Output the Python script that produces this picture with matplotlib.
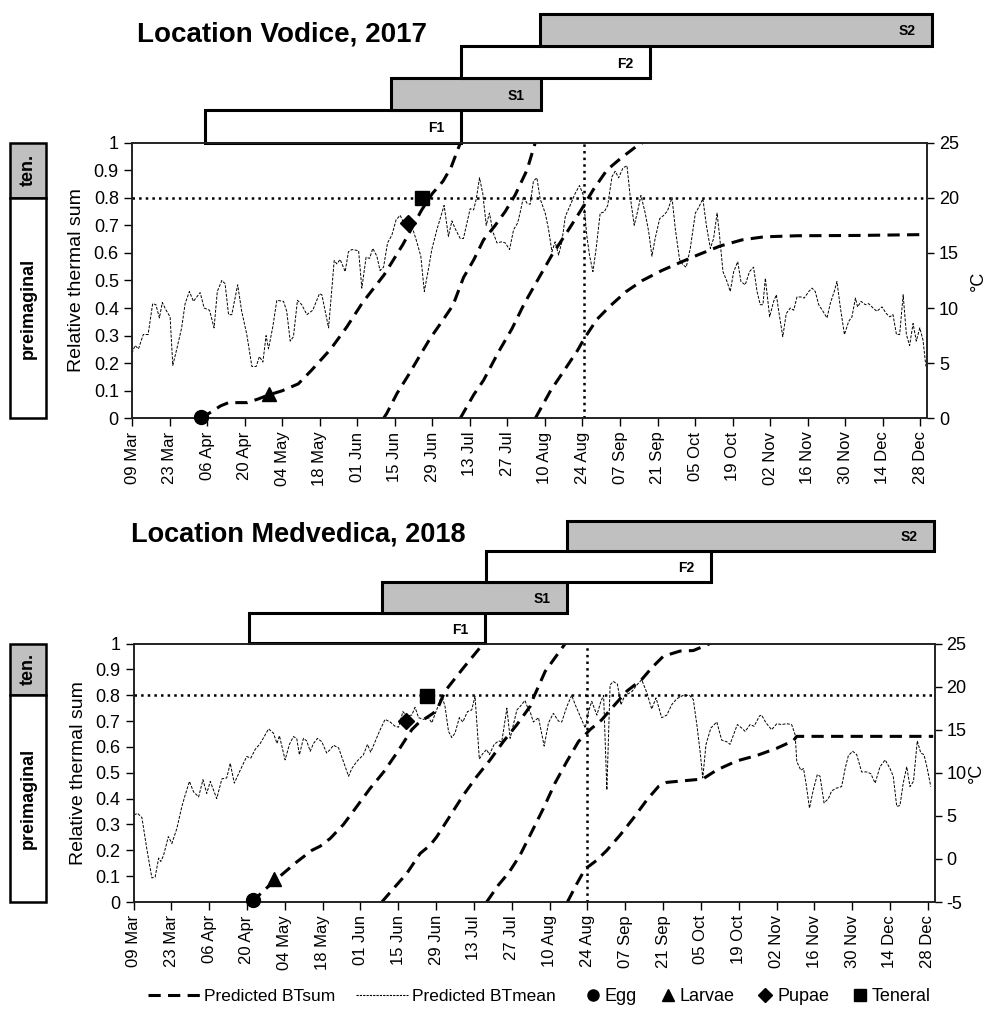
import matplotlib
matplotlib.use("Agg")
import matplotlib.pyplot as plt
from matplotlib.lines import Line2D
from matplotlib.patches import Rectangle
from matplotlib.transforms import blended_transform_factory
import pandas as pd

plt.rcParams['font.family'] = ['Liberation Sans', 'DejaVu Sans']

# x axis is "days after 09 Mar", labelled every 14 days
tick_days = list(range(0, 295, 14))
x_max = 296.5

gen_names = ['F1', 'S1', 'F2', 'S2']
gen_fill = ['white', '#c0c0c0', 'white', '#c0c0c0']
stage_names = ['Egg', 'Larvae', 'Pupae', 'Teneral']
stage_marks = ['o', '^', 'D', 's']

# ---------------- Vodice 2017 ----------------
vod_temp_day = [0, 1.1, 2.4, 4.2, 6, 7.7, 8.9, 10.2, 11.3, 12.7, 14.2, 15.2, 16.7, 18.5, 19.8, 21.4, 22.9,
                25.4, 26.9, 28.9, 30.6, 31.8, 33.5, 34.7, 36, 37.2, 39.4, 40.9, 42.8, 44.7, 46.3, 47.5,
                48.8, 50, 50.9, 52.5, 54, 56.5, 57.7, 59, 60.2, 61.7, 63.3, 65.2, 67.4, 69.9, 70.8, 73.3,
                75.4, 76.4, 77.6, 79.5, 80.7, 82, 84.5, 85.7, 87.3, 88.6, 89.8, 91.3, 92.5, 93.8, 95.3,
                96.9, 98.5, 100, 102.5, 104.4, 106.2, 107.7, 109, 110.6, 111.8, 113.7, 116.4, 118, 119.3,
                120.5, 122.4, 123.6, 126.1, 127.4, 128.4, 129.6, 130.8, 132.1, 133.3, 134.6, 136.1, 137.9,
                139.2, 140.8, 142.3, 143.8, 144.8, 146, 147.3, 148.5, 149.7, 151, 152.2, 154.1, 155.3,
                156.6, 157.8, 159.1, 160.3, 161.6, 163.4, 165.3, 166.9, 168.2, 169.6, 170.6, 171.9, 173.1,
                174.6, 176.1, 177.4, 179, 180.2, 181.5, 183.1, 184.6, 185.8, 187.3, 188.5, 189.8, 191.4,
                192.7, 193.9, 195.1, 196.8, 198.3, 199.7, 201.4, 202.6, 204.2, 205.5, 206.7, 208.2, 210.1,
                211.3, 212.9, 214.2, 215.7, 216.9, 218.2, 219.1, 220.4, 221.9, 223.1, 224.4, 225.9, 227.1,
                228.7, 230.3, 231.8, 233.1, 234.3, 235.3, 236.2, 237.1, 237.8, 239.3, 240.3, 241.2, 242.7,
                244, 245.5, 246.8, 248, 249.5, 250.7, 252.4, 253.6, 254.8, 256.1, 257.7, 259.2, 260.4,
                261.9, 262.9, 264.2, 265.7, 267.3, 268.5, 269.8, 270.6, 271.9, 273.5, 274.7, 276.4, 277.8,
                279.7, 281.3, 282.6, 283.8, 285.1, 286.3, 287.6, 288.8, 290, 291.3, 292.5, 293.8, 295,
                295.9, 296.3]
vod_temp = [5.9, 6.6, 6.3, 7.6, 7.6, 10.4, 10.3, 9.1, 10.5, 9.8, 9.2, 4.8, 6.3, 8.2, 10.4, 11.5, 10.6,
            11.4, 10.0, 9.8, 8.2, 11.5, 12.5, 12.2, 9.4, 9.4, 12.1, 9.7, 7.6, 4.7, 4.7, 5.6,
            5.1, 7.5, 6.3, 8.3, 10.7, 10.6, 9.7, 7.0, 7.4, 10.7, 10.3, 9.4, 9.8, 11.3, 11.2, 8.2,
            14.3, 14.0, 14.4, 13.3, 15.1, 15.3, 15.2, 11.8, 14.6, 14.5, 15.4, 14.7, 13.4, 13.7, 15.9,
            16.6, 18.0, 18.4, 17.1, 17.4, 16.0, 14.7, 11.5, 13.6, 15.3, 17.1, 19.3, 16.5, 17.9,
            17.2, 16.3, 16.3, 19.0, 18.9, 19.9, 21.8, 20.4, 17.5, 18.6, 16.9, 15.9, 16.0,
            15.9, 15.3, 17.1, 17.7, 18.7, 20.1, 19.5, 19.4, 21.5, 21.8, 19.9, 18.6, 17.2,
            15.1, 16.0, 14.8, 16.0, 18.3, 19.3, 20.4, 21.1, 20.3, 16.6, 14.8, 13.3, 15.4,
            18.6, 18.7, 19.3, 21.9, 22.4, 21.8, 22.7, 22.9, 20.1, 17.5, 18.7, 20.2, 18.6,
            16.9, 14.7, 16.3, 18.1, 18.4, 18.8, 20.0, 17.2, 14.4, 13.9, 13.7, 15.4, 18.6,
            19.1, 19.9, 17.5, 15.4, 16.3, 18.6, 16.6, 13.3, 12.4, 11.5, 13.3, 14.2, 12.4,
            12.1, 13.3, 13.7, 11.5, 10.3, 10.3, 12.7, 10.7, 9.2, 10.6, 11.2, 9.7, 7.4,
            9.5, 10.0, 9.8, 11.0, 11.0, 10.9, 11.5, 11.8, 11.5, 10.3, 9.7, 9.1, 10.4,
            11.5, 12.4, 10.0, 7.6, 8.8, 9.2, 10.9, 10.1, 10.6, 10.3, 10.4, 10.0, 9.7,
            10.1, 9.5, 9.2, 9.4, 7.6, 7.6, 11.2, 7.6, 6.6, 8.6, 7.0, 8.2, 7.1,
            5.1, 4.5]

vod_f1_day = [25.5, 29, 33, 36, 43, 47, 51, 56, 62, 67, 74, 80, 86, 94, 101, 108, 112, 116, 119, 122.5]
vod_f1 = [0, 0.02, 0.045, 0.057, 0.057, 0.07, 0.085, 0.1, 0.125, 0.175, 0.25, 0.33, 0.42, 0.52, 0.63,
          0.755, 0.815, 0.86, 0.91, 1.0]
vod_s1_day = [93.8, 95, 98.8, 103.1, 107.5, 111.2, 115.5, 119.7, 123.6, 127.4, 131.1, 135.1, 139.2,
              142.9, 147.3, 150.4]
vod_s1 = [0, 0.018, 0.09, 0.157, 0.23, 0.29, 0.35, 0.41, 0.51, 0.574, 0.647, 0.695, 0.75, 0.81, 0.90, 1.0]
vod_f2_day = [122.4, 127.4, 131.1, 136.7, 141.7, 146.3, 151.6, 156.6, 161.9, 167.2, 172.1, 177.1, 182.3,
              188.9, 190.5]
vod_f2 = [0, 0.085, 0.138, 0.241, 0.325, 0.416, 0.507, 0.592, 0.670, 0.751, 0.830, 0.90, 0.943, 0.992, 1.0]
vod_s2_day = [150.4, 156.2, 161.2, 166.2, 168.7, 173.4, 178.6, 184.2, 190.4, 197.6, 205.1, 210.9, 219.4,
              227.5, 235.6, 248, 270, 294]
vod_s2 = [0, 0.102, 0.174, 0.247, 0.29, 0.359, 0.41, 0.459, 0.50, 0.536, 0.568, 0.592, 0.625, 0.647,
          0.658, 0.662, 0.663, 0.666]

vod_stage_day = [25.7, 51.0, 102.9, 108.1]
vod_stage_val = [0.005, 0.09, 0.71, 0.80]
vod_gen_start = [27.2, 96.5, 122.7, 152.3]
vod_gen_end = [122.7, 152.6, 193.3, 298.4]
vod_vline = 168.6

# ---------------- Medvedica 2018 ----------------
med_temp_day = [0.2, 1.5, 3.1, 4.9, 6.8, 8, 9.3, 10.1, 11.1, 12.9, 14.2, 16, 17.9, 19.1, 20.7, 22.2,
                24.1, 25.7, 27.1, 28.4, 30.8, 32.7, 34.5, 35.8, 37.3, 39.5, 41.9, 43.4, 45, 46.9, 48.7,
                50, 51.8, 53.1, 54, 56.1, 57.7, 59.2, 60.4, 61.4, 62.9, 64.1, 65.4, 66.6, 68.1, 69.7,
                71.5, 72.8, 74, 75.9, 77.7, 79.6, 80.8, 82.6, 85.1, 86.6, 87.8, 89.4, 91, 93.1, 95,
                96.8, 98.1, 99.7, 101.1, 103, 104.2, 105.5, 107.3, 109.2, 110.4, 112.2, 114.1, 115.3,
                116.6, 117.8, 119, 120.6, 121.9, 123.6, 125.2, 126.4, 128, 129.2, 130.7, 131.7, 133.5,
                135.1, 136.3, 138.2, 139.4, 140.6, 141.9, 143.1, 144.9, 146.2, 146.8, 148, 149.9, 152,
                153.6, 155.4, 157.3, 158.5, 160.4, 162.2, 163.5, 165.3, 167.2, 168.4, 169.6, 171.5, 173,
                174, 175.2, 176.4, 177.6, 179.1, 180.4, 182, 183.2, 184.4, 186.3, 188.1, 190, 191.8,
                193.4, 195.5, 197.4, 199.2, 201.1, 203.5, 205.8, 207.2, 208.5, 209.7, 210.7, 211.9,
                213.7, 215.9, 217.7, 219.6, 220.8, 222.3, 223.5, 225.1, 226.4, 228.2, 229.7, 231.7,
                232.5, 234.1, 236.2, 238.1, 239.9, 241.8, 243.6, 244.9, 245.5, 247, 248, 249, 250.2,
                251.6, 253.1, 254.1, 255.6, 257.2, 258.4, 260, 262.1, 263.4, 264.6, 266.2, 267.7, 269.5,
                271.4, 272.9, 274.5, 276.3, 278.2, 280, 281.2, 282.5, 283.7, 284.9, 286.2, 287.4, 288.7,
                290.1, 291.4, 292.6, 293.8, 295.1]
med_temp = [5.1, 5.3, 4.8, 1.2, -2.2, -2.1, 0.1, -0.3, 0.4, 2.6, 1.8, 3.5, 6.1, 7.4, 9.0, 7.8,
            7.2, 9.2, 7.6, 9.0, 7.0, 9.3, 9.4, 11.1, 8.8, 10.3, 11.9, 11.7, 12.7, 13.4, 14.4,
            15.1, 14.6, 13.4, 14.3, 11.5, 13.3, 14.2, 14.0, 12.1, 14.0, 13.7, 12.5, 13.4, 14.0, 13.6,
            12.3, 12.7, 13.2, 12.9, 11.3, 9.6, 10.5, 11.3, 12.1, 13.3, 12.4, 13.6, 14.8, 16.2, 15.9,
            15.4, 15.3, 17.1, 16.6, 16.7, 17.6, 16.4, 16.2, 16.4, 15.8, 17.3, 19.0, 17.7,
            14.8, 14.1, 14.6, 16.4, 15.9, 17.1, 17.3, 18.9, 11.6, 12.2, 12.7, 12.1, 13.3,
            13.7, 13.6, 17.5, 14.0, 15.6, 17.3, 17.7, 18.4, 17.3, 17.1, 15.9, 16.4, 13.1,
            15.8, 16.9, 16.0, 15.9, 17.7, 19.0, 17.9, 16.6, 15.2, 17.1, 18.3, 16.7, 18.3,
            19.0, 8.0, 20.2, 20.6, 20.3, 17.9, 19.1, 19.2, 19.4, 20.2, 20.8, 19.3, 17.4,
            18.7, 16.4, 16.7, 17.9, 18.6, 19.0, 19.0, 18.5, 15.6, 12.5, 9.4, 13.3,
            15.2, 15.9, 13.8, 13.6, 13.3, 14.6, 15.6, 15.2, 14.8, 15.6, 15.4, 16.6,
            16.7, 15.8, 15.0, 15.7, 15.6, 15.7, 15.6, 14.4, 11.3, 10.3, 10.5, 8.6, 5.9,
            8.0, 9.8, 9.6, 6.5, 7.0, 7.9, 8.2, 8.4, 10.5, 12.0, 12.5, 12.1, 10.1,
            10.1, 9.9, 8.8, 10.7, 11.5, 10.5, 9.6, 6.1, 6.2, 8.8, 10.7, 8.4, 9.0,
            13.7, 12.3, 12.1, 10.5, 8.4]

med_f1_day = [43.8, 48.7, 54.9, 60.4, 66, 69.1, 72.8, 77.7, 82.6, 87.6, 92.5, 97.4, 103, 105.5, 111,
              112.9, 115.3, 122.1, 129.5]
med_f1 = [0, 0.049, 0.106, 0.155, 0.2, 0.216, 0.246, 0.30, 0.369, 0.44, 0.502, 0.576, 0.667, 0.693,
          0.731, 0.757, 0.816, 0.906, 1.0]
med_s1_day = [91.9, 96.2, 101.1, 106.1, 109.8, 112.2, 116.6, 122.1, 127, 132, 136.9, 141.9, 146.8, 148,
              152.4, 159.8]
med_s1 = [0, 0.052, 0.11, 0.188, 0.22, 0.252, 0.324, 0.414, 0.485, 0.55, 0.621, 0.686, 0.757, 0.79,
          0.893, 1.0]
med_f2_day = [130.7, 135, 139, 143, 146.8, 151.7, 156, 160.4, 164.7, 169, 173.3, 177.6, 182.6, 188.1,
              191.8, 196.1, 202.3, 207.2, 213.4]
med_f2 = [0, 0.065, 0.115, 0.18, 0.259, 0.362, 0.46, 0.544, 0.621, 0.667, 0.705, 0.757, 0.816, 0.861,
          0.906, 0.951, 0.971, 0.973, 1.0]
med_s2_day = [160.6, 164.1, 167.2, 169, 171.5, 175.2, 180.1, 185, 190, 194.3, 197.4, 203.5, 210.7,
              215.9, 223.3, 230.7, 238.1, 244.2, 245.5, 296]
med_s2 = [0, 0.071, 0.129, 0.142, 0.162, 0.2, 0.259, 0.324, 0.395, 0.447, 0.463, 0.469, 0.476, 0.511,
          0.546, 0.567, 0.595, 0.624, 0.641, 0.641]

med_stage_day = [44.2, 52.1, 100.9, 108.8]
med_stage_val = [0.006, 0.088, 0.699, 0.796]
med_gen_start = [42.9, 92.0, 130.5, 160.5]
med_gen_end = [130.0, 160.5, 213.8, 296.3]
med_vline = 167.9

btsum_style = dict(color='black', lw=2.2, linestyle=(0, (4, 2.4)))
btmean_style = dict(color='black', lw=0.7, linestyle=(0, (3, 1.5)))


def draw_site(fig, main_rect, gantt_rect, start, title, title_xy, title_size, temp_day, temp, curves,
              stage_day, stage_val, gen_start, gen_end, vline, temp_lim, temp_ticks, c_pad):
    ax = fig.add_axes(main_rect)
    ax2 = ax.twinx()
    ax.set_zorder(ax2.get_zorder() + 1)
    ax.patch.set_visible(False)

    # temperature (right axis)
    ax2.plot(temp_day, temp, **btmean_style)
    ax2.set_ylim(*temp_lim)
    ax2.set_yticks(temp_ticks)
    ax2.set_yticklabels([str(t) for t in temp_ticks], fontsize=13)
    ax2.set_ylabel('°C', fontsize=13, labelpad=c_pad)
    ax2.tick_params(axis='y', direction='out', length=5, width=1)

    # predicted thermal sums (left axis)
    for d, v in curves:
        ax.plot(d, v, **btsum_style)
    ax.axhline(0.8, color='black', lw=1.8, linestyle=':')
    ax.axvline(vline, color='black', lw=1.8, linestyle=':')
    for d, v, m in zip(stage_day, stage_val, stage_marks):
        ax.plot([d], [v], marker=m, color='black', ls='none',
                markersize=8 if m == 'D' else 10, clip_on=False, zorder=5)

    ax.set_xlim(0, x_max)
    ax.set_ylim(0, 1)
    ax.set_yticks([i / 10 for i in range(11)])
    ax.set_yticklabels(['0'] + ['0.%d' % i for i in range(1, 10)] + ['1'], fontsize=13)
    ax.set_ylabel('Relative thermal sum', fontsize=14, labelpad=6)
    dates = pd.Timestamp(start) + pd.to_timedelta(tick_days, unit='D')
    ax.set_xticks(tick_days)
    ax.set_xticklabels(dates.strftime('%d %b'), rotation=90, fontsize=12)
    ax.tick_params(direction='out', length=6, width=1)
    for a in (ax, ax2):
        for s in a.spines.values():
            s.set_linewidth(1.2)
            s.set_color('#222222')

    # stage boxes at the left
    tr = blended_transform_factory(fig.transFigure, ax.transData)
    for y0, y1, fc, lab in [(0.8, 1.0, '#c0c0c0', 'ten.'), (0.0, 0.8, 'white', 'preimaginal')]:
        ax.add_patch(Rectangle((10 / 992, y0), 36 / 992, y1 - y0, transform=tr, facecolor=fc,
                               edgecolor='black', lw=1.8, clip_on=False))
        ax.text(28 / 992, (y0 + y1) / 2, lab, transform=tr, rotation=90, ha='center', va='center',
                fontsize=13, fontweight='bold')

    # generation bars
    gx = fig.add_axes(gantt_rect, sharex=ax)
    gx.barh(range(4), [e - s for s, e in zip(gen_start, gen_end)], left=gen_start, height=1.0,
            color=gen_fill, edgecolor='black', linewidth=2.2, clip_on=False)
    for i, (name, e) in enumerate(zip(gen_names, gen_end)):
        gx.annotate(name, (e, i), xytext=(-12, -1), textcoords='offset points', ha='right',
                    va='center', fontsize=10, fontweight='bold', annotation_clip=False)
    gx.set_ylim(-0.5, 3.5)
    gx.axis('off')

    fig.text(title_xy[0], title_xy[1], title, fontsize=title_size, fontweight='bold', va='baseline')


fig = plt.figure(figsize=(9.92, 10.1), dpi=100)

draw_site(fig, [0.1331, 0.5858, 0.8014, 0.2731], [0.1331, 0.8589, 0.8014, 0.1272], '2017-03-09',
          'Location Vodice, 2017', (137 / 992, 0.9587), 20, vod_temp_day, vod_temp,
          [(vod_f1_day, vod_f1), (vod_s1_day, vod_s1), (vod_f2_day, vod_f2), (vod_s2_day, vod_s2)],
          vod_stage_day, vod_stage_val, vod_gen_start, vod_gen_end, vod_vline, (0, 25),
          [0, 5, 10, 15, 20, 25], 8)

draw_site(fig, [0.1346, 0.1069, 0.8075, 0.2559], [0.1346, 0.3629, 0.8075, 0.1216], '2018-03-09',
          'Location Medvedica, 2018', (131 / 992, 0.4637), 19.5, med_temp_day, med_temp,
          [(med_f1_day, med_f1), (med_s1_day, med_s1), (med_f2_day, med_f2), (med_s2_day, med_s2)],
          med_stage_day, med_stage_val, med_gen_start, med_gen_end, med_vline, (-5, 25),
          [-5, 0, 5, 10, 15, 20, 25], 1)

# legends
line_handles = [Line2D([], [], **btsum_style), Line2D([], [], color='black', lw=0.8, linestyle=(0, (2, 1)))]
fig.legend(line_handles, ['Predicted BTsum', 'Predicted BTmean'], loc='center left',
           bbox_to_anchor=(148 / 992, 0.013), ncol=2, frameon=False, fontsize=12.5,
           handlelength=3.0, handletextpad=0.25, columnspacing=1.15, borderpad=0, borderaxespad=0)
mark_handles = [Line2D([], [], marker=m, color='black', ls='none', markersize=7 if m == 'D' else 8)
                for m in stage_marks]
fig.legend(mark_handles, stage_names, loc='center left', bbox_to_anchor=(586 / 992, 0.013), ncol=4,
           frameon=False, fontsize=13, handlelength=0.8, handletextpad=0.25, columnspacing=1.3,
           borderpad=0, borderaxespad=0)

fig.savefig('out.png', dpi=100)
